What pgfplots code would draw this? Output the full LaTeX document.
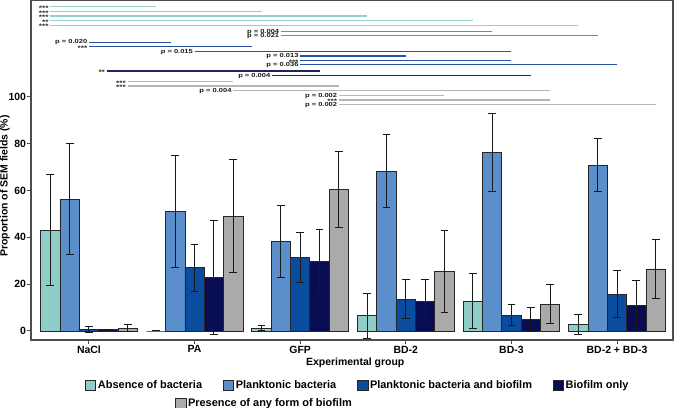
\documentclass[border=0pt]{standalone}
\usepackage{fontspec}
\setmainfont{Liberation Sans}
\newfontfamily\pfont[FakeStretch=1.28]{Liberation Sans}
\usepackage{pgfplots}
\pgfplotsset{compat=1.18}
\usepackage{pgfplotstable}

\definecolor{cAbs}{RGB}{143,206,200}
\definecolor{cPlk}{RGB}{90,143,203}
\definecolor{cPbb}{RGB}{10,77,158}
\definecolor{cBio}{RGB}{8,12,80}
\definecolor{cPre}{RGB}{170,170,170}
\definecolor{lAbs}{RGB}{150,208,204}
\definecolor{lPlk}{RGB}{100,140,192}
\definecolor{lPbb}{RGB}{40,82,160}
\definecolor{lBio}{RGB}{30,35,100}
\definecolor{lPre}{RGB}{182,182,182}

% x = group index + offset of the bar, y = mean, e = half length of error bar
\pgfplotstableread{
x y e
-0.366 43.0 23.7
0.634 0.0 0.0
1.634 1.2 1.2
2.634 6.5 9.6
3.634 12.8 11.9
4.634 2.9 4.3
}\absence
\pgfplotstableread{
x y e
-0.183 56.4 23.7
0.817 51.1 24.1
1.817 38.3 15.4
2.817 68.3 15.6
3.817 76.2 16.7
4.817 70.9 11.4
}\plank
\pgfplotstableread{
x y e
0 0.7 1.3
1 27.0 10.0
2 31.3 10.6
3 13.5 8.3
4 6.7 4.5
5 15.8 10.2
}\pbb
\pgfplotstableread{
x y e
0.183 0.5 0.3
1.183 22.7 24.4
2.183 29.6 13.6
3.183 12.6 9.4
4.183 5.0 5.1
5.183 11.0 10.4
}\bio
\pgfplotstableread{
x y e
0.366 1.2 1.5
1.366 49.1 24.2
2.366 60.6 16.3
3.366 25.5 17.4
4.366 11.4 8.4
5.366 26.5 12.7
}\pres

\newcommand{\sig}[5]{%
  \addplot[forget plot, color=#1, line width=1.1bp] coordinates {(#2,#4) (#3,#4)}
    node[pos=0, anchor=east, inner xsep=1.2bp, inner ysep=0pt, text=black!90,
         font=\pfont\bfseries\fontsize{5.9}{6}\selectfont] {#5};}
\newcommand{\sst}[5]{%
  \addplot[forget plot, color=#1, line width=1.1bp] coordinates {(#2,#4) (#3,#4)}
    node[pos=0, anchor=east, inner xsep=1.2bp, inner ysep=0pt, yshift=-1.3bp, text=black!85,
         font=\pfont\bfseries\fontsize{6.5}{6}\selectfont] {#5};}

\pgfplotsset{
  barstyle/.style={ybar, bar width=0.183, bar shift=0pt, draw=black!85, line width=0.8bp,
    error bars/y dir=both, error bars/y explicit,
    error bars/error bar style={line width=1bp, black!90},
    error bars/error mark options={rotate=90, mark size=3.9bp, line width=1bp, black!90}},
  myleg/.style={
    legend image code/.code={\draw[##1, draw=black!85, line width=0.8bp] (0bp,-4.8bp) rectangle (10.5bp,4.8bp);},
    legend style={draw=none, fill=none, inner sep=0pt, outer sep=0pt,
      font=\bfseries\fontsize{11}{12}\selectfont,
      nodes={inner xsep=1.7bp, inner ysep=0pt},
      /tikz/every even column/.append style={column sep=19bp}}},
}

\begin{document}
\begin{tikzpicture}
\useasboundingbox (-31bp,-68bp) rectangle (644bp,340bp);
\begin{axis}[
  scale only axis, width=642bp, height=340bp,
  xmin=-0.549, xmax=5.530, ymin=-3.85, ymax=141.45,
  clip=false,
  axis line style={black!70, line width=1.1bp},
  xtick={0,1,2,3,4,5},
  xticklabels={NaCl, PA, GFP, BD-2, BD-3, BD-2 + BD-3},
  ytick={0,20,40,60,80,100},
  xtick pos=bottom, ytick pos=left,
  tick align=outside, major tick length=4bp,
  tick style={black!70, line width=1bp},
  /pgf/number format/assume math mode=true,
  tick label style={font=\bfseries\fontsize{10.5}{12}\selectfont},
  yticklabel style={inner sep=0.8bp},
  xticklabel style={inner sep=1.5bp},
  xlabel={Experimental group},
  ylabel={Proportion of SEM fields (\%)},
  label style={font=\bfseries\fontsize{10.5}{12}\selectfont},
  xlabel style={at={(axis description cs:0.505,-0.0676)}, anchor=center},
  ylabel style={at={(axis description cs:-0.0405,0.453)}, anchor=center},
  myleg,
  legend columns=4,
  legend style={at={(axis description cs:0.0841,-0.1332)}, anchor=west},
]
\addplot[barstyle, fill=cAbs] table[x=x, y=y, y error=e] {\absence};
\addlegendentry{Absence of bacteria}
\addplot[barstyle, fill=cPlk] table[x=x, y=y, y error=e] {\plank};
\addlegendentry{Planktonic bacteria}
\addplot[barstyle, fill=cPbb] table[x=x, y=y, y error=e] {\pbb};
\addlegendentry{Planktonic bacteria and biofilm}
\addplot[barstyle, fill=cBio] table[x=x, y=y, y error=e] {\bio};
\addlegendentry{Biofilm only}
\addplot[barstyle, fill=cPre, forget plot] table[x=x, y=y, y error=e] {\pres};

% significance lines
\sst{lAbs}{-0.366}{0.634}{138.6}{***}
\sst{lAbs}{-0.366}{1.634}{136.5}{***}
\sst{lAbs}{-0.366}{2.634}{134.6}{***}
\sst{lAbs}{-0.366}{3.634}{132.6}{**}
\sst{lAbs}{-0.366}{4.634}{130.6}{***}
\sig{lPlk}{1.817}{3.817}{127.9}{p = 0.004}
\sig{lPlk}{1.817}{4.817}{126.1}{p = 0.021}
\sig{lPbb}{0}{0.774}{123.4}{p = 0.020}
\sst{lPbb}{0}{1.544}{121.5}{***}
\sig{lPbb}{1}{4}{119.4}{p = 0.015}
\sig{lPbb}{2}{3}{117.5}{p = 0.013}
\sst{lPbb}{2}{4}{115.5}{***}
\sig{lPbb}{2}{5}{113.7}{p = 0.036}
\sst{lBio}{0.168}{2.183}{111.1}{**}
\sig{lBio}{1.733}{4.183}{109.0}{p = 0.004}
\sst{lPre}{0.366}{1.366}{106.5}{***}
\sst{lPre}{0.366}{2.366}{104.7}{***}
\sig{lPre}{1.366}{4.366}{102.7}{p = 0.004}
\sig{lPre}{2.366}{3.366}{100.6}{p = 0.002}
\sst{lPre}{2.366}{4.366}{98.7}{***}
\sig{lPre}{2.366}{5.366}{96.7}{p = 0.002}
\end{axis}
\begin{axis}[
  scale only axis, width=642bp, height=340bp,
  xmin=0, xmax=1, ymin=0, ymax=1, hide axis,
  myleg,
  legend style={at={(axis description cs:0.2243,-0.1862)}, anchor=west},
]
\addlegendimage{fill=cPre}
\addlegendentry{Presence of any form of biofilm}
\end{axis}
\end{tikzpicture}
\end{document}
